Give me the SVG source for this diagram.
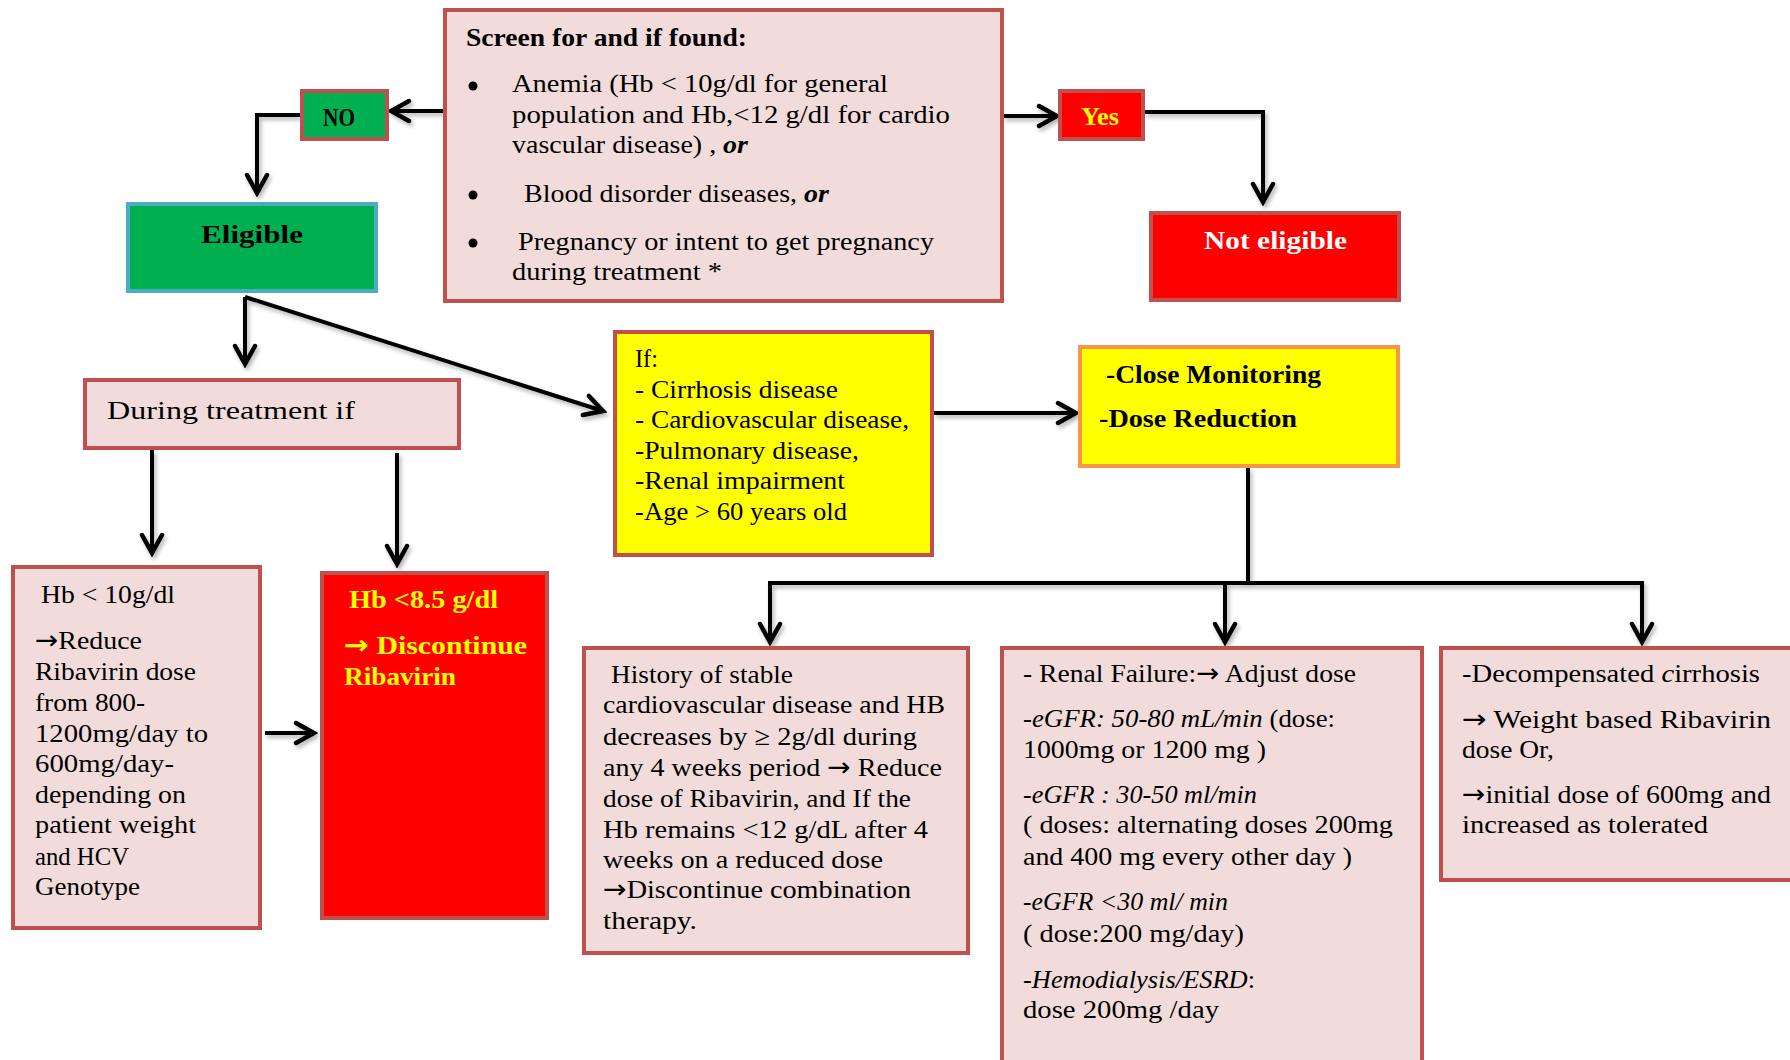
<svg xmlns="http://www.w3.org/2000/svg" width="1790" height="1060" viewBox="0 0 1790 1060">
<style>
text{font-family:"Liberation Serif","Times New Roman",serif;font-size:26px;fill:#000}
.b{font-weight:bold}
.bi{font-weight:bold;font-style:italic}
.i{font-style:italic}
.ar{font-family:"DejaVu Sans",sans-serif;font-style:normal}
.pink{fill:#F2DCDB;stroke:#C0504D;stroke-width:4}
.red{fill:#FF0000;stroke:#C0504D;stroke-width:4}
.grn{fill:#00B050;stroke:#C0504D;stroke-width:4}
.yel{fill:#FFFF00;stroke:#C0504D;stroke-width:4}
.conn path{fill:none;stroke:#000;stroke-width:4;marker-end:url(#ah)}
.conn path.plain{marker-end:none}
</style>
<defs>
<marker id="ah" markerUnits="userSpaceOnUse" viewBox="-22 -13 26 26" refX="0" refY="0" markerWidth="26" markerHeight="26" orient="auto">
<path d="M-18,-10 L0,0 L-18,10" fill="none" stroke="#000" stroke-width="4.5" stroke-linecap="round" stroke-linejoin="miter"/>
</marker>
<filter id="sh" x="-10%" y="-10%" width="130%" height="130%">
<feDropShadow dx="2" dy="3" stdDeviation="2" flood-color="#000" flood-opacity="0.3"/>
</filter>
</defs>
<rect width="1790" height="1060" fill="#FFFFFF"/>

<g id="connectors" class="conn" filter="url(#sh)">
<path d="M445,111 L391,111"/>
<path d="M300,115 L257,115 L257,193"/>
<path d="M1003,116 L1057,116"/>
<path d="M1145,112 L1263,112 L1263,202"/>
<path d="M245,297 L245,364"/>
<path d="M245,297 L603,411"/>
<path d="M152,450 L152,553"/>
<path d="M397,453 L397,564"/>
<path d="M265,733 L314,733"/>
<path d="M934,413 L1076,413"/>
<path class="plain" d="M1248,468 L1248,583"/>
<path d="M1248,583 L770,583 L770,642"/>
<path d="M1248,583 L1642,583 L1642,642"/>
<path d="M1225,583 L1225,642"/>
</g>

<g id="screen">
<rect class="pink" x="445" y="10" width="557" height="291"/>
<text class="b" x="466" y="46" textLength="281" lengthAdjust="spacingAndGlyphs">Screen for and if found:</text>
<circle cx="473" cy="86" r="4.5"/>
<circle cx="473" cy="195" r="4.5"/>
<circle cx="473" cy="243" r="4.5"/>
<text x="512" y="92" textLength="376" lengthAdjust="spacingAndGlyphs">Anemia (Hb &lt; 10g/dl  for  general</text>
<text x="512" y="123" textLength="438" lengthAdjust="spacingAndGlyphs">population  and  Hb,&lt;12 g/dl for cardio</text>
<text x="512" y="153" textLength="236" lengthAdjust="spacingAndGlyphs">vascular disease) , <tspan class="bi">or</tspan></text>
<text x="524" y="202" textLength="305" lengthAdjust="spacingAndGlyphs">Blood disorder diseases, <tspan class="bi">or</tspan></text>
<text x="518" y="250" textLength="416" lengthAdjust="spacingAndGlyphs">Pregnancy or intent to get pregnancy</text>
<text x="512" y="280" textLength="210" lengthAdjust="spacingAndGlyphs">during treatment *</text>
</g>

<g id="no">
<rect class="grn" x="302" y="91" width="85" height="48"/>
<text class="b" x="323" y="126" font-size="22" textLength="32" lengthAdjust="spacingAndGlyphs">NO</text>
</g>

<g id="yes">
<rect class="red" x="1060" y="91" width="83" height="48"/>
<text class="b" x="1081" y="125" font-size="22" textLength="38" lengthAdjust="spacingAndGlyphs" style="fill:#FFFF00">Yes</text>
</g>

<g id="eligible">
<rect x="128" y="204" width="248" height="87" fill="#00B050" stroke="#4BACC6" stroke-width="4"/>
<text class="b" x="201" y="243" font-size="31" textLength="102" lengthAdjust="spacingAndGlyphs">Eligible</text>
</g>

<g id="not-eligible">
<rect class="red" x="1151" y="213" width="248" height="87"/>
<text class="b" x="1204" y="249" font-size="27" textLength="143" lengthAdjust="spacingAndGlyphs" style="fill:#FFFFFF">Not eligible</text>
</g>

<g id="during">
<rect class="pink" x="85" y="380" width="374" height="68"/>
<text x="107" y="419" font-size="27" textLength="248" lengthAdjust="spacingAndGlyphs">During treatment if</text>
</g>

<g id="if-box">
<rect class="yel" x="615" y="332" width="317" height="223"/>
<text x="635" y="367" textLength="23" lengthAdjust="spacingAndGlyphs">If:</text>
<text x="635" y="398" textLength="203" lengthAdjust="spacingAndGlyphs">- Cirrhosis disease</text>
<text x="635" y="428" textLength="274" lengthAdjust="spacingAndGlyphs">- Cardiovascular disease,</text>
<text x="635" y="459" textLength="224" lengthAdjust="spacingAndGlyphs">-Pulmonary disease,</text>
<text x="635" y="489" textLength="210" lengthAdjust="spacingAndGlyphs">-Renal impairment</text>
<text x="635" y="520" textLength="212" lengthAdjust="spacingAndGlyphs">-Age &gt; 60 years old</text>
</g>

<g id="monitoring">
<rect x="1080" y="347" width="318" height="119" fill="#FFFF00" stroke="#F79646" stroke-width="4"/>
<text class="b" x="1106" y="383" textLength="215" lengthAdjust="spacingAndGlyphs">-Close Monitoring</text>
<text class="b" x="1099" y="427" textLength="198" lengthAdjust="spacingAndGlyphs">-Dose Reduction</text>
</g>

<g id="hb10">
<rect class="pink" x="13" y="567" width="247" height="361"/>
<text x="41" y="603" textLength="134" lengthAdjust="spacingAndGlyphs">Hb &lt; 10g/dl</text>
<text x="35" y="649" textLength="107" lengthAdjust="spacingAndGlyphs"><tspan class="ar">→</tspan>Reduce</text>
<text x="35" y="680" textLength="161" lengthAdjust="spacingAndGlyphs">Ribavirin dose</text>
<text x="35" y="711" textLength="110" lengthAdjust="spacingAndGlyphs">from 800-</text>
<text x="35" y="742" textLength="173" lengthAdjust="spacingAndGlyphs">1200mg/day to</text>
<text x="35" y="772" textLength="139" lengthAdjust="spacingAndGlyphs">600mg/day-</text>
<text x="35" y="803" textLength="151" lengthAdjust="spacingAndGlyphs">depending on</text>
<text x="35" y="833" textLength="161" lengthAdjust="spacingAndGlyphs">patient weight</text>
<text x="35" y="865" textLength="94" lengthAdjust="spacingAndGlyphs">and HCV</text>
<text x="35" y="895" textLength="105" lengthAdjust="spacingAndGlyphs">Genotype</text>
</g>

<g id="hb85">
<rect class="red" x="322" y="573" width="225" height="345"/>
<text class="b" x="349" y="608" textLength="149" lengthAdjust="spacingAndGlyphs" style="fill:#FFFF00">Hb &lt;8.5 g/dl</text>
<text class="b" x="344" y="654" textLength="183" lengthAdjust="spacingAndGlyphs" style="fill:#FFFF00"><tspan class="ar">→</tspan>  Discontinue</text>
<text class="b" x="344" y="685" textLength="112" lengthAdjust="spacingAndGlyphs" style="fill:#FFFF00">Ribavirin</text>
</g>

<g id="history">
<rect class="pink" x="584" y="648" width="384" height="305"/>
<text x="611" y="683" textLength="182" lengthAdjust="spacingAndGlyphs">History of stable</text>
<text x="603" y="713" textLength="342" lengthAdjust="spacingAndGlyphs">cardiovascular disease and HB</text>
<text x="603" y="745" textLength="314" lengthAdjust="spacingAndGlyphs">decreases by ≥ 2g/dl during</text>
<text x="603" y="776" textLength="339" lengthAdjust="spacingAndGlyphs">any 4 weeks period <tspan class="ar">→</tspan> Reduce</text>
<text x="603" y="807" textLength="308" lengthAdjust="spacingAndGlyphs">dose of Ribavirin, and If the</text>
<text x="603" y="838" textLength="325" lengthAdjust="spacingAndGlyphs">Hb remains &lt;12 g/dL  after 4</text>
<text x="603" y="868" textLength="280" lengthAdjust="spacingAndGlyphs">weeks on a reduced dose</text>
<text x="603" y="898" textLength="308" lengthAdjust="spacingAndGlyphs"><tspan class="ar">→</tspan>Discontinue combination</text>
<text x="603" y="929" textLength="94" lengthAdjust="spacingAndGlyphs">therapy.</text>
</g>

<g id="renal">
<rect class="pink" x="1002" y="648" width="420" height="420"/>
<text x="1023" y="682" textLength="333" lengthAdjust="spacingAndGlyphs">- Renal Failure:<tspan class="ar">→</tspan> Adjust dose</text>
<text x="1023" y="727" textLength="312" lengthAdjust="spacingAndGlyphs"><tspan class="i">-eGFR: 50-80 mL/min</tspan> (dose:</text>
<text x="1023" y="758" textLength="243" lengthAdjust="spacingAndGlyphs">1000mg or 1200 mg )</text>
<text x="1023" y="803" textLength="234" lengthAdjust="spacingAndGlyphs" class="i">-eGFR : 30-50 ml/min</text>
<text x="1023" y="833" textLength="370" lengthAdjust="spacingAndGlyphs">( doses: alternating doses 200mg</text>
<text x="1023" y="865" textLength="329" lengthAdjust="spacingAndGlyphs">and 400 mg every other day )</text>
<text x="1023" y="910" textLength="205" lengthAdjust="spacingAndGlyphs" class="i">-eGFR &lt;30 ml/ min</text>
<text x="1023" y="942" textLength="221" lengthAdjust="spacingAndGlyphs">( dose:200 mg/day)</text>
<text x="1023" y="988" textLength="232" lengthAdjust="spacingAndGlyphs"><tspan class="i">-Hemodialysis/ESRD</tspan>:</text>
<text x="1023" y="1018" textLength="196" lengthAdjust="spacingAndGlyphs">dose 200mg /day</text>
</g>

<g id="cirrhosis">
<rect class="pink" x="1441" y="648" width="400" height="232"/>
<text x="1462" y="682" textLength="298" lengthAdjust="spacingAndGlyphs">-Decompensated  <tspan class="i">c</tspan>irrhosis</text>
<text x="1462" y="728" textLength="309" lengthAdjust="spacingAndGlyphs"><tspan class="ar">→</tspan>  Weight  based  Ribavirin</text>
<text x="1462" y="758" textLength="92" lengthAdjust="spacingAndGlyphs">dose Or,</text>
<text x="1462" y="803" textLength="309" lengthAdjust="spacingAndGlyphs"><tspan class="ar">→</tspan>initial dose of 600mg and</text>
<text x="1462" y="833" textLength="246" lengthAdjust="spacingAndGlyphs">increased as tolerated</text>
</g>
</svg>
